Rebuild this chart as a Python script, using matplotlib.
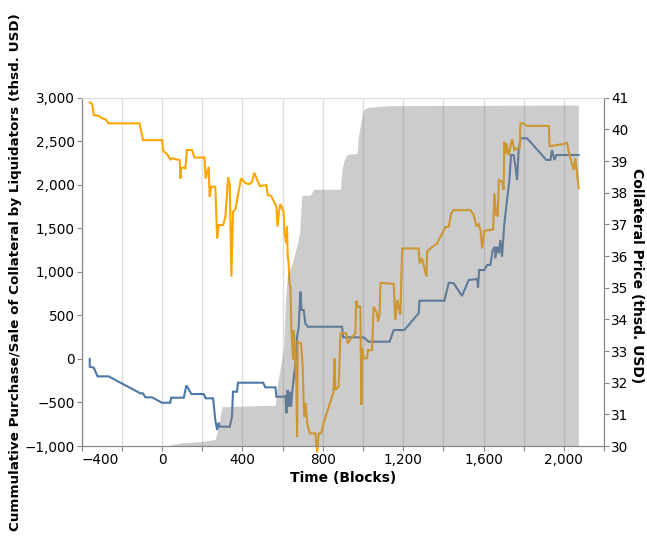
import numpy as np
import matplotlib
matplotlib.use("Agg")
import matplotlib.pyplot as plt
from matplotlib.ticker import FixedLocator, FuncFormatter

# Cumulative purchase/sale of collateral by liquidators (thsd. USD, left axis)
flow_blocks = [-360, -360, -340, -321, -266, -108, -95, -83, -50, 0, 41, 45, 108, 121, 146,
               207, 217, 254, 265, 274, 282, 287, 337, 348, 353, 373, 378, 503, 514, 564,
               569, 605, 614, 619, 625, 630, 635, 642, 647, 664, 672, 680, 689, 694, 705,
               713, 725, 896, 901, 1004, 1028, 1133, 1153, 1206, 1277, 1282, 1405, 1427,
               1452, 1493, 1526, 1568, 1573, 1578, 1604, 1618, 1634, 1646, 1656, 1659,
               1668, 1676, 1684, 1692, 1698, 1704, 1717, 1729, 1737, 1750, 1759, 1767,
               1775, 1784, 1817, 1913, 1933, 1941, 1953, 1963, 2074]
flow_vals = [0, -90, -100, -200, -200, -395, -395, -441, -441, -503, -503, -445, -445, -303,
             -403, -403, -452, -452, -701, -816, -732, -778, -778, -663, -376, -376, -273,
             -273, -326, -326, -434, -434, -425, -624, -357, -549, -376, -549, -395, -50,
             255, 370, 772, 562, 562, 409, 370, 370, 248, 248, 198, 198, 332, 332, 524, 669,
             669, 875, 869, 723, 906, 918, 820, 1021, 1021, 1079, 1079, 1251, 1289, 1156,
             1289, 1213, 1366, 1174, 1366, 1558, 1825, 2055, 2342, 2342, 2208, 2055, 2399,
             2534, 2534, 2285, 2285, 2399, 2285, 2342, 2342]

# Collateral price (thsd. USD, right axis)
price_blocks = [-360, -348, -340, -316, -299, -282, -266, -112, -95, 0, 5, 28, 41, 50, 88, 91,
                96, 108, 116, 124, 149, 161, 211, 217, 232, 237, 244, 265, 274, 282, 304,
                315, 329, 337, 345, 353, 365, 376, 393, 415, 436, 448, 459, 486, 519, 526,
                543, 569, 575, 582, 589, 605, 609, 619, 622, 625, 630, 634, 639, 644, 652,
                655, 660, 669, 672, 675, 692, 700, 705, 708, 715, 722, 735, 763, 772, 780,
                792, 804, 851, 854, 858, 863, 879, 888, 917, 924, 941, 962, 967, 974, 987,
                992, 996, 1004, 1021, 1024, 1045, 1053, 1070, 1075, 1083, 1087, 1153, 1161,
                1171, 1186, 1195, 1277, 1282, 1294, 1316, 1319, 1336, 1369, 1399, 1410, 1427,
                1439, 1449, 1535, 1551, 1565, 1576, 1585, 1593, 1604, 1648, 1654, 1663, 1671,
                1676, 1692, 1700, 1704, 1709, 1714, 1725, 1742, 1754, 1764, 1780, 1784, 1797,
                1817, 1925, 1929, 1999, 2016, 2024, 2049, 2057, 2074]
price_vals = [40.85, 40.80, 40.45, 40.43, 40.35, 40.32, 40.19, 40.19, 39.66, 39.66, 39.33,
              39.19, 39.05, 39.09, 39.03, 38.45, 38.77, 38.80, 38.77, 39.35, 39.35, 39.11,
              39.11, 38.45, 38.82, 37.87, 38.19, 38.19, 36.56, 36.98, 36.98, 37.24, 38.49,
              38.24, 35.35, 37.40, 37.48, 37.87, 38.45, 38.30, 38.27, 38.35, 38.63, 38.21,
              38.24, 37.93, 37.90, 37.56, 36.93, 37.40, 37.64, 37.40, 36.72, 36.40, 36.93,
              36.03, 35.77, 35.14, 35.03, 33.66, 32.72, 33.66, 33.25, 31.87, 30.29, 33.29,
              33.24, 32.50, 31.35, 30.93, 31.35, 30.72, 30.40, 30.40, 29.80, 30.40, 30.40,
              30.72, 31.66, 31.77, 32.77, 31.77, 31.87, 33.56, 33.56, 33.24, 33.40, 33.56,
              34.59, 34.40, 34.40, 31.30, 33.09, 32.77, 32.77, 33.03, 33.03, 34.40, 34.19,
              33.93, 34.19, 35.15, 35.12, 33.98, 34.61, 34.14, 36.24, 36.24, 35.77, 35.93,
              35.35, 36.14, 36.24, 36.40, 36.77, 36.91, 36.93, 37.33, 37.45, 37.45, 37.30,
              36.93, 37.01, 36.82, 36.24, 36.80, 36.84, 37.98, 37.30, 37.26, 38.40, 38.35,
              38.09, 39.61, 39.24, 39.56, 39.19, 39.69, 39.35, 39.40, 39.40, 40.19, 40.19,
              40.11, 40.11, 39.47, 39.54, 39.58, 39.29, 38.72, 39.09, 38.14]

# Shaded band, in right axis units
band_blocks = [30, 41, 91, 192, 265, 274, 299, 564, 572, 605, 614, 624, 649, 672, 685, 694,
               697, 738, 755, 888, 896, 908, 921, 971, 977, 996, 1003, 1027, 1136, 2072]
band_vals = [30.0, 30.03, 30.10, 30.14, 30.21, 30.44, 31.24, 31.29, 31.87, 33.08, 34.62,
             35.39, 35.80, 36.35, 36.77, 37.78, 37.92, 37.92, 38.11, 38.11, 38.77, 39.05,
             39.21, 39.24, 39.76, 40.45, 40.62, 40.70, 40.75, 40.77]

x_ticks = list(range(-400, 2201, 200))
left_ticks = list(range(-1000, 3001, 500))
right_ticks = list(range(30, 42))

AXIS_GREY = "#888888"
GRID_GREY = "#dddddd"

plt.rcParams["font.family"] = ["DejaVu Sans"]

fig = plt.figure(figsize=(6.47, 5.39), dpi=100)
ax = fig.add_axes([0.1263, 0.1725, 0.8073, 0.6462])
ax2 = ax.twinx()

# left axis: liquidator flow
ax.plot(flow_blocks, flow_vals, color="#4c78a8", lw=1.5, zorder=2, solid_joinstyle="miter")
ax.set_xlim(-400, 2200)
ax.set_ylim(-1000, 3000)

# right axis: price line, band drawn on top of it
ax2.plot(price_blocks, price_vals, color="orange", lw=1.5, zorder=2, clip_on=False,
         solid_joinstyle="miter")
ax2.fill_between(band_blocks, 30, band_vals, color="#808080", alpha=0.4, lw=0, zorder=3)
ax2.set_ylim(30, 41)
ax2.patch.set_visible(False)

# grid and ticks
ax.xaxis.set_major_locator(FixedLocator(x_ticks))
ax.xaxis.set_major_formatter(FuncFormatter(
    lambda v, p: (f"{int(v):,}".replace("-", "\u2212") if int(v) % 400 == 0 and v < 2200 else "")))
ax.grid(axis="x", color=GRID_GREY, lw=1, zorder=0)
ax.set_axisbelow(True)
ax.yaxis.set_major_locator(FixedLocator(left_ticks))
ax.yaxis.set_major_formatter(FuncFormatter(lambda v, p: f"{int(v):,}".replace("-", "\u2212")))
ax2.yaxis.set_major_locator(FixedLocator(right_ticks))

for a in (ax, ax2):
    a.tick_params(length=3.6, width=0.8, color=AXIS_GREY, labelsize=9.8, pad=1.5,
                  labelcolor="black")
    for side, sp in a.spines.items():
        sp.set_color(AXIS_GREY)
        sp.set_linewidth(0.8)
    a.spines["top"].set_color(GRID_GREY)

# flush the first x label to the left edge
fig.canvas.draw()
ax.get_xticklabels()[0].set_horizontalalignment("left")

ax.set_xlabel("Time (Blocks)", fontsize=10, fontweight="bold", labelpad=3)
fig.text(0.024, 0.496, "Cummulative Purchase/Sale of Collateral by Liquidators (thsd. USD)",
         rotation=90, ha="center", va="center", fontsize=9.7, fontweight="bold")
fig.text(0.985, 0.488, "Collateral Price (thsd. USD)", rotation=-90, ha="center",
         va="center", fontsize=10, fontweight="bold")

fig.savefig("out.png", dpi=100)
